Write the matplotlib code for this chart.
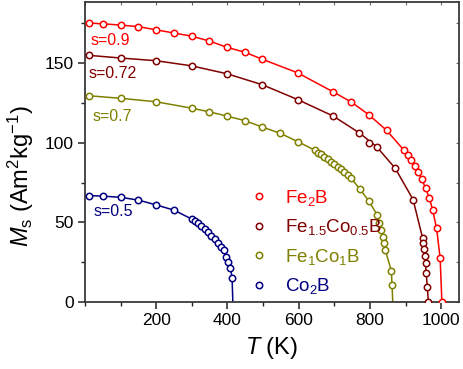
import numpy as np
import matplotlib
matplotlib.use("Agg")
import matplotlib.pyplot as plt
from matplotlib.lines import Line2D
from matplotlib.ticker import MultipleLocator

plt.rcParams["font.family"] = ["Liberation Sans", "DejaVu Sans"]
plt.rcParams["mathtext.fontset"] = "custom"
plt.rcParams["mathtext.rm"] = "Liberation Sans"
plt.rcParams["mathtext.it"] = "Liberation Sans:italic"

# data
fe2b_T = [10, 50, 100, 150, 200, 250, 300, 349, 399, 448, 497, 597, 697, 748, 797,
          847, 896, 906, 916, 926, 936, 946, 956, 967, 976, 987, 997, 1002]
fe2b_M = [175.3, 174.8, 174.0, 173.0, 171.0, 169.0, 167.0, 164.0, 160.0, 157.0, 152.6,
          144.0, 132.0, 125.6, 117.6, 107.8, 95.2, 92.2, 89.0, 85.5, 81.5, 77.0, 71.5,
          65.2, 57.8, 46.3, 27.8, 0.0]

fe15_T = [10, 100, 200, 299, 399, 498, 597, 697, 770, 796, 819, 871, 921, 948, 950,
          952, 954, 956, 958, 961, 964]
fe15_M = [155.0, 153.3, 151.6, 148.4, 143.4, 136.5, 127.2, 116.8, 106.3, 100.2, 97.5,
          84.0, 64.4, 40.0, 37.0, 33.0, 29.0, 24.3, 18.0, 9.6, 0.0]
# fitted line (passes by the odd point at 796 K)
fe15_line_T = [10, 100, 200, 299, 399, 498, 597, 697, 770, 819, 871, 921, 948, 950,
               952, 954, 956, 958, 961, 964]
fe15_line_M = [155.0, 153.3, 151.6, 148.4, 143.4, 136.5, 127.2, 116.8, 106.3, 97.5,
               84.0, 64.4, 40.0, 37.0, 33.0, 29.0, 24.3, 18.0, 9.6, 0.0]

fe1_T = [10, 100, 200, 299, 349, 399, 448, 497, 548, 597, 647, 654, 663, 672, 682, 691,
         700, 710, 719, 728, 738, 747, 771, 796, 821, 826, 832, 836, 840, 843, 860, 862]
fe1_M = [129.6, 128.0, 125.8, 121.8, 119.5, 116.8, 114.0, 110.0, 106.0, 100.8, 95.2,
         93.9, 92.9, 91.4, 89.9, 88.2, 86.6, 85.1, 83.5, 81.9, 79.9, 77.8, 71.2, 63.7,
         54.5, 49.5, 45.5, 41.0, 36.8, 32.7, 19.6, 10.6]
fe1_Tc = 864

co2b_T = [10, 50, 100, 150, 200, 250, 299, 308, 318, 327, 337, 346, 355, 365, 374, 383,
          389, 396, 401, 408, 413]
co2b_M = [66.9, 66.5, 65.8, 64.0, 61.0, 57.7, 52.2, 51.1, 49.5, 47.5, 45.9, 43.8, 41.5,
          39.4, 36.9, 34.8, 32.7, 28.1, 25.0, 21.6, 15.3]
co2b_Tc = 415

labels = ["Fe$_2$B", "Fe$_{1.5}$Co$_{0.5}$B", "Fe$_1$Co$_1$B", "Co$_2$B"]
colors = ["#ff0000", "#800000", "#808000", "#000080"]
s_text = ["s=0.9", "s=0.72", "s=0.7", "s=0.5"]
s_pos = [(15, 164), (9, 143.4), (20, 116.4), (23, 56.6)]

fig = plt.figure(figsize=(4.63, 3.69), dpi=100)
ax = fig.add_axes([85 / 463, 1 - 302 / 369, 374 / 463, 300 / 369])

series = [
    (fe2b_T, fe2b_M, fe2b_T, fe2b_M),
    (fe15_T, fe15_M, fe15_line_T, fe15_line_M),
    (fe1_T, fe1_M, fe1_T + [fe1_Tc], fe1_M + [0.0]),
    (co2b_T, co2b_M, co2b_T + [co2b_Tc], co2b_M + [0.0]),
]

for (T, M, lT, lM), c in zip(series, colors):
    ax.plot(lT, lM, color=c, lw=1.1, zorder=2)
    ax.plot(T, M, "o", mfc="white", mec=c, mew=1.1, ms=4.6, ls="none", zorder=3)

for txt, (x, y), c in zip(s_text, s_pos, colors):
    ax.text(x, y, txt, color=c, fontsize=11.5, ha="left", va="center")

handles = [Line2D([], [], marker="o", ls="none", mfc="white", mec=c, mew=1.1, ms=4.6)
           for c in colors]
leg = ax.legend(handles, labels, loc="upper left", bbox_to_anchor=(0.441, 0.38),
                frameon=False, fontsize=13.5, handlelength=0.96, handletextpad=0.9,
                labelspacing=0.5, borderpad=0, borderaxespad=0)
for t, c in zip(leg.get_texts(), colors):
    t.set_color(c)

ax.set_xlim(0, 1050)
ax.set_ylim(0, 188.5)
ax.set_xticks([200, 400, 600, 800, 1000])
ax.set_yticks([0, 50, 100, 150])
ax.xaxis.set_minor_locator(MultipleLocator(100))
ax.yaxis.set_minor_locator(MultipleLocator(25))
ax.tick_params(which="major", direction="out", length=5, width=1.1, labelsize=12.5,
               colors="#222222", pad=3)
ax.tick_params(which="minor", direction="out", length=3, width=1.0, colors="#222222")
ax.tick_params(axis="both", labelcolor="black")

for side in ["top", "right"]:
    if side == "top":
        sec = ax.secondary_xaxis("top")
        sec.set_xticks([200, 400, 600, 800, 1000])
        sec.xaxis.set_minor_locator(MultipleLocator(100))
    else:
        sec = ax.secondary_yaxis("right")
        sec.set_yticks([0, 50, 100, 150])
        sec.yaxis.set_minor_locator(MultipleLocator(25))
    sec.tick_params(which="both", direction="in", length=2, width=0.8, colors="#666666",
                    labeltop=False, labelright=False)
    for sp in sec.spines.values():
        sp.set_visible(False)

for sp in ax.spines.values():
    sp.set_linewidth(1.3)
    sp.set_color("#3a3a3a")

ax.set_xlabel("$T$ (K)", fontsize=17, labelpad=5)
ax.set_ylabel(r"$M_\mathrm{s}$ (Am$^2$kg$^{-1}$)", fontsize=17)
ax.yaxis.set_label_coords(-0.13, 0.42)

fig.savefig("out.png", dpi=100)
